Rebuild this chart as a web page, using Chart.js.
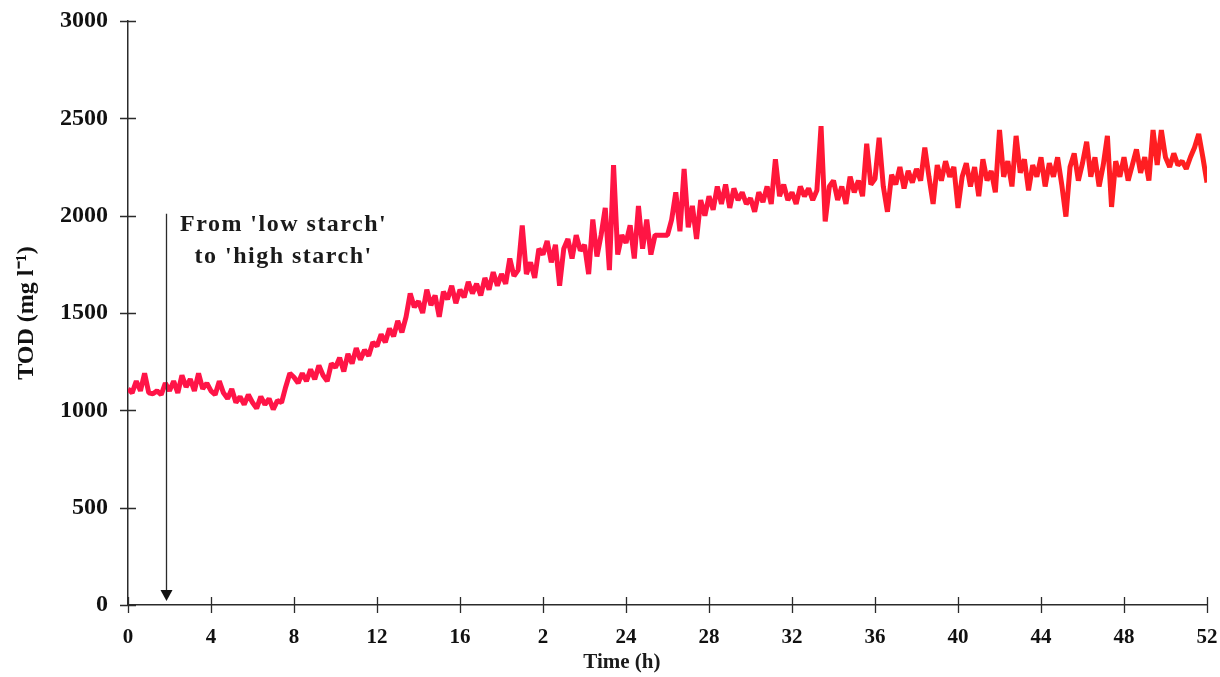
<!DOCTYPE html>
<html>
<head>
<meta charset="utf-8">
<script src="https://cdn.jsdelivr.net/npm/chart.js@4.4.1/dist/chart.umd.min.js"></script>
<style>
  html, body { margin: 0; padding: 0; background: #fff; }
  #wrap { width: 1220px; height: 677px; }
</style>
</head>
<body>
<div id="wrap"><canvas id="todChart" width="1220" height="677"></canvas></div>
<script>
// TOD readings, one every 0.2 h from 0 h to 52 h
const sampleStepHours = 0.2;
const todValues = [
  1110, 1090, 1150, 1100, 1190, 1090, 1085, 1100, 1080, 1140, // 0 h
  1100, 1150, 1090, 1180, 1120, 1160, 1100, 1190, 1110, 1140, // 2 h
  1100, 1080, 1150, 1090, 1060, 1110, 1040, 1070, 1030, 1080, // 4 h
  1040, 1010, 1070, 1030, 1060, 1005, 1050, 1040, 1120, 1190, // 6 h
  1170, 1140, 1190, 1150, 1210, 1160, 1230, 1180, 1150, 1240, // 8 h
  1220, 1270, 1200, 1290, 1240, 1320, 1260, 1310, 1280, 1350, // 10 h
  1330, 1390, 1350, 1420, 1380, 1460, 1400, 1480, 1600, 1530, // 12 h
  1560, 1500, 1620, 1540, 1590, 1480, 1610, 1570, 1640, 1550, // 14 h
  1620, 1580, 1660, 1600, 1650, 1590, 1680, 1620, 1710, 1640, // 16 h
  1700, 1650, 1780, 1690, 1720, 1950, 1700, 1760, 1680, 1830, // 18 h
  1800, 1870, 1760, 1850, 1640, 1830, 1880, 1780, 1900, 1820, // 20 h
  1850, 1700, 1980, 1790, 1900, 2040, 1720, 2260, 1800, 1900, // 22 h
  1860, 1950, 1780, 2050, 1830, 1980, 1800, 1900, 1900, 1900, // 24 h
  1900, 1980, 2120, 1920, 2240, 1940, 2050, 1880, 2080, 2000, // 26 h
  2100, 2030, 2150, 2060, 2160, 2040, 2140, 2080, 2120, 2060, // 28 h
  2090, 2020, 2120, 2070, 2150, 2060, 2290, 2100, 2160, 2080, // 30 h
  2120, 2060, 2150, 2100, 2140, 2080, 2130, 2460, 1970, 2150, // 32 h
  2180, 2080, 2150, 2060, 2200, 2120, 2180, 2100, 2370, 2160, // 34 h
  2190, 2400, 2150, 2020, 2210, 2160, 2250, 2140, 2230, 2170, // 36 h
  2240, 2180, 2350, 2200, 2060, 2260, 2180, 2280, 2200, 2250, // 38 h
  2040, 2200, 2270, 2150, 2250, 2100, 2290, 2180, 2230, 2120, // 40 h
  2440, 2200, 2280, 2150, 2410, 2220, 2290, 2130, 2260, 2200, // 42 h
  2300, 2150, 2270, 2200, 2300, 2160, 1995, 2250, 2320, 2180, // 44 h
  2270, 2380, 2200, 2300, 2150, 2260, 2410, 2045, 2280, 2200, // 46 h
  2300, 2180, 2260, 2340, 2220, 2300, 2180, 2440, 2260, 2440, // 48 h
  2300, 2250, 2320, 2260, 2280, 2240, 2300, 2350, 2420, 2300, // 50 h
  2170                                                        // 52 h
];
const timeHours = todValues.map((_, i) => +(i * sampleStepHours).toFixed(1));

// axis ticks (the original figure prints "2" where 20 h should be)
const xTickLabels = ['0', '4', '8', '12', '16', '2', '24', '28', '32', '36', '40', '44', '48', '52'];
const yTickValues = [0, 500, 1000, 1500, 2000, 2500, 3000];

// annotation
const switchHour = 1.85;
const switchArrowTop = 2010;
const noteLines = ["From 'low starch'", "to 'high starch'"];

const axisColor = '#2b2b2b';
const serif = '"Liberation Serif", "Times New Roman", serif';

// crossing tick marks, arrow, notes and the x title
const decorations = {
    id: 'decorations',
    afterDraw(chart) {
        const ctx = chart.ctx;
        const xs = chart.scales.x;
        const ys = chart.scales.y;
        const x0 = xs.left;
        const y0 = ys.bottom;
        ctx.save();
        ctx.strokeStyle = axisColor;
        ctx.lineWidth = 1.3;
        ctx.beginPath();
        xs.ticks.forEach(t => {
            const px = Math.round(xs.getPixelForValue(t.value)) + 0.5;
            ctx.moveTo(px, y0 - 8);
            ctx.lineTo(px, y0 + 8);
        });
        yTickValues.forEach(v => {
            const py = Math.round(ys.getPixelForValue(v)) + 0.5;
            ctx.moveTo(x0 - 8, py);
            ctx.lineTo(x0 + 8, py);
        });
        ctx.stroke();

        // arrow for the feed change
        const ax = Math.round(xs.getPixelForValue(switchHour)) + 0.5;
        const aTop = ys.getPixelForValue(switchArrowTop);
        const aTip = ys.getPixelForValue(0) - 4;
        ctx.lineWidth = 1.3;
        ctx.beginPath();
        ctx.moveTo(ax, aTop);
        ctx.lineTo(ax, aTip - 8);
        ctx.stroke();
        ctx.fillStyle = '#111';
        ctx.beginPath();
        ctx.moveTo(ax - 6, aTip - 11);
        ctx.lineTo(ax + 6, aTip - 11);
        ctx.lineTo(ax, aTip);
        ctx.closePath();
        ctx.fill();

        // note text
        ctx.fillStyle = '#1a1a1a';
        ctx.font = 'bold 24px ' + serif;
        ctx.letterSpacing = '1.5px';
        ctx.textAlign = 'center';
        ctx.textBaseline = 'middle';
        const nx = xs.getPixelForValue(7.5);
        ctx.fillText(noteLines[0], nx, ys.getPixelForValue(1955));
        ctx.fillText(noteLines[1], nx, ys.getPixelForValue(1790));

        // x axis title
        ctx.letterSpacing = '0px';
        ctx.font = 'bold 21px ' + serif;
        ctx.fillText('Time (h)', xs.getPixelForValue(23.8), 663);
        ctx.restore();
    }
};

const ctx = document.getElementById('todChart').getContext('2d');
new Chart(ctx, {
    type: 'line',
    data: {
        labels: timeHours,
        datasets: [{
            label: 'TOD',
            data: timeHours.map((t, i) => ({ x: t, y: todValues[i] })),
            borderColor: function(context) {
                const area = context.chart.chartArea;
                if (!area) return '#ff1a3c';
                const g = context.chart.ctx.createLinearGradient(area.left, 0, area.right, 0);
                g.addColorStop(0, '#ff1448');
                g.addColorStop(0.5, '#ff1544');
                g.addColorStop(0.75, '#ff1a2a');
                g.addColorStop(1, '#ff1f1f');
                return g;
            },
            borderWidth: 5,
            borderJoinStyle: 'bevel',
            pointRadius: 0,
            tension: 0,
            fill: false
        }]
    },
    options: {
        responsive: false,
        animation: false,
        layout: { padding: { top: 21, right: 13, left: 0, bottom: 0 } },
        plugins: {
            legend: { display: false },
            tooltip: { enabled: false }
        },
        scales: {
            x: {
                type: 'linear',
                min: 0,
                max: 52,
                afterFit: function(scale) {
                    scale.height = 72;
                    scale.paddingLeft = 0;
                    scale.paddingRight = 0;
                },
                afterBuildTicks: function(scale) {
                    scale.ticks = xTickLabels.map((_, i) => ({ value: i * 4 }));
                },
                ticks: {
                    autoSkip: false,
                    maxRotation: 0,
                    padding: 20,
                    color: '#111',
                    font: { family: serif, size: 21, weight: 'bold' },
                    callback: function(value, index) {
                        return xTickLabels[index];
                    }
                },
                grid: { display: true, drawOnChartArea: false, drawTicks: false },
                border: { display: true, color: axisColor, width: 1.5 }
            },
            y: {
                min: 0,
                max: 3000,
                afterFit: function(scale) {
                    scale.width = 128;
                    scale.paddingTop = 0;
                    scale.paddingBottom = 0;
                },
                afterBuildTicks: function(scale) {
                    scale.ticks = yTickValues.map(v => ({ value: v }));
                },
                ticks: {
                    padding: 20,
                    color: '#111',
                    font: { family: serif, size: 24, weight: 'bold' },
                    callback: function(value) {
                        return String(value);
                    }
                },
                grid: { display: true, drawOnChartArea: false, drawTicks: false },
                border: { display: true, color: axisColor, width: 1.5 },
                title: {
                    display: true,
                    text: 'TOD (mg l\u207B\u00B9)',
                    color: '#111',
                    font: { family: serif, size: 24, weight: 'bold' },
                    padding: { top: 12, bottom: 0 }
                }
            }
        }
    },
    plugins: [decorations]
});
</script>
</body>
</html>
